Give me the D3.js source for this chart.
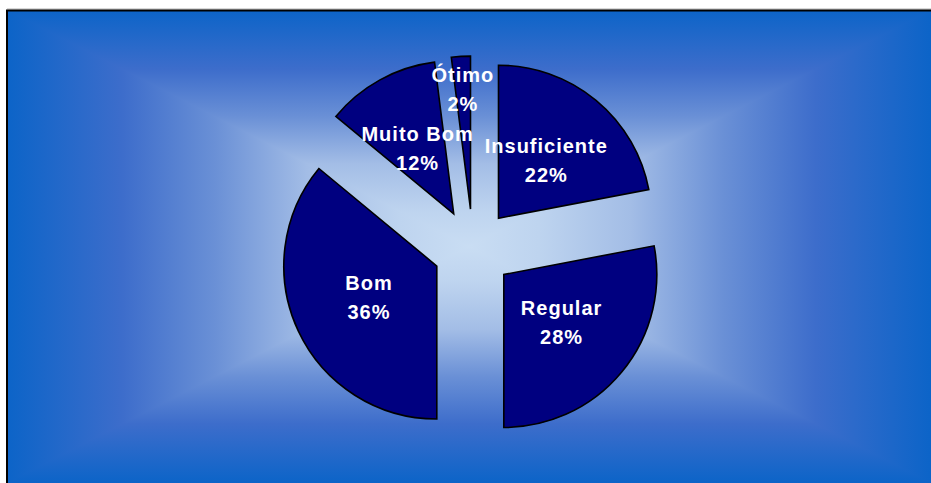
<!DOCTYPE html>
<html>
<head>
<meta charset="utf-8">
<script src="https://cdn.jsdelivr.net/npm/d3@7"></script>
<style>
  html, body { margin: 0; padding: 0; background: #fff; }
  svg { display: block; }
</style>
</head>
<body>
<svg id="chart" width="931" height="483"></svg>
<script>
const categories = ["Insuficiente", "Regular", "Bom", "Muito Bom", "Ótimo"];
const percents = [22, 28, 36, 12, 2];

const W = 931, H = 483;
const svg = d3.select("#chart");
const defs = svg.append("defs");

// chart area
const area = { x0: 7, y0: 10, x1: 931, y1: 483 };
const cxA = (area.x0 + area.x1) / 2, cyA = (area.y0 + area.y1) / 2;

const stops = [
  [0, "#0c64c8"], [0.25, "#3d6dcb"], [0.45, "#6a90d6"],
  [0.65, "#a3bde6"], [0.85, "#bed4ef"], [1, "#c9ddf3"]
];
// symmetric gradient: edge -> center -> edge
function symGrad(id, x1, y1, x2, y2) {
  const g = defs.append("linearGradient").attr("id", id)
    .attr("gradientUnits", "userSpaceOnUse")
    .attr("x1", x1).attr("y1", y1).attr("x2", x2).attr("y2", y2);
  stops.forEach(s => g.append("stop").attr("offset", s[0] / 2).attr("stop-color", s[1]));
  stops.slice().reverse().forEach(s => g.append("stop").attr("offset", 1 - s[0] / 2).attr("stop-color", s[1]));
}
symGrad("gV", 0, area.y0, 0, area.y1);
symGrad("gH", area.x0, 0, area.x1, 0);

svg.append("rect")
  .attr("x", area.x0).attr("y", area.y0)
  .attr("width", area.x1 - area.x0).attr("height", area.y1 - area.y0)
  .attr("fill", "url(#gV)");

const c = [cxA, cyA];
const tl = [area.x0, area.y0], tr = [area.x1, area.y0], bl = [area.x0, area.y1], br = [area.x1, area.y1];
const tri = (pts) => svg.append("path")
  .attr("d", "M" + pts.map(p => p.join(",")).join("L") + "Z")
  .attr("fill", "url(#gH)");
tri([tl, bl, c]);
tri([tr, br, c]);

// border lines
svg.append("line").attr("x1", area.x0).attr("x2", W).attr("y1", 9).attr("y2", 9)
  .attr("stroke", "#b0b0b0").attr("stroke-width", 1);
svg.append("line").attr("x1", area.x0 - 1).attr("x2", W).attr("y1", 10.5).attr("y2", 10.5)
  .attr("stroke", "#000").attr("stroke-width", 2);
svg.append("line").attr("x1", area.x0).attr("x2", area.x0).attr("y1", 10).attr("y2", H)
  .attr("stroke", "#000").attr("stroke-width", 2);

// pie
const center = [473, 249];
const R = 153, explode = 40;
const pie = d3.pie().sort(null).value(d => d.v).startAngle(0).endAngle(2 * Math.PI);
const data = pie(categories.map((k, i) => ({ k, v: percents[i] })));
const arc = d3.arc().innerRadius(0).outerRadius(R);
const mid = d => (d.startAngle + d.endAngle) / 2;
const offset = d => [explode * Math.sin(mid(d)), -explode * Math.cos(mid(d))];

const g = svg.append("g").attr("transform", `translate(${center[0]},${center[1]})`);
g.selectAll("path.slice").data(data).join("path")
  .attr("class", "slice")
  .attr("transform", d => `translate(${offset(d)})`)
  .attr("d", arc)
  .attr("fill", "#000080")
  .attr("stroke", "#000")
  .attr("stroke-width", 1.6)
  .attr("stroke-linejoin", "miter");

const labels = g.selectAll("text.lbl").data(data).join("text")
  .attr("class", "lbl")
  .attr("text-anchor", "middle")
  .attr("fill", "#fff")
  .attr("font-family", "'Liberation Sans', Arial, sans-serif")
  .attr("font-weight", "bold")
  .attr("font-size", 20)
  .attr("letter-spacing", 1)
  .attr("transform", d => {
    const m = mid(d), o = offset(d);
    const lr = d.data.v < 5 ? 120 : 75;
    return `translate(${o[0] + lr * Math.sin(m)},${o[1] - lr * Math.cos(m)})`;
  });
labels.append("tspan").attr("x", 0).attr("y", -7.5).text(d => d.data.k);
labels.append("tspan").attr("x", 0).attr("y", 21.5).text(d => d.data.v + "%");
</script>
</body>
</html>
